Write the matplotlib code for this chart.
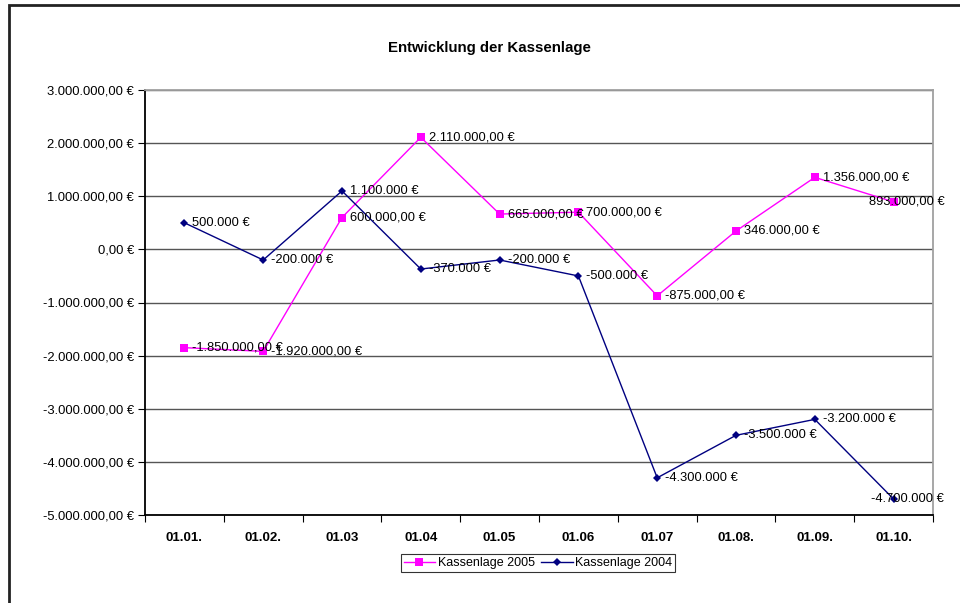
import matplotlib.pyplot as plt
from matplotlib.patches import Rectangle

plt.rcParams['font.family'] = ['Liberation Sans', 'DejaVu Sans']

categories = ['01.01.', '01.02.', '01.03', '01.04', '01.05', '01.06', '01.07', '01.08.', '01.09.', '01.10.']
kasse_2005 = [-1850000, -1920000, 600000, 2110000, 665000, 700000, -875000, 346000, 1356000, 893000]
kasse_2004 = [500000, -200000, 1100000, -370000, -200000, -500000, -4300000, -3500000, -3200000, -4700000]
y_ticks = [-5000000, -4000000, -3000000, -2000000, -1000000, 0, 1000000, 2000000, 3000000]


def euro(v, decimals=True):
    s = f"{abs(v):,.2f}" if decimals else f"{abs(v):,.0f}"
    s = s.replace(',', 'X').replace('.', ',').replace('X', '.')
    return ('-' if v < 0 else '') + s + ' €'


W, H = 960, 603
fig = plt.figure(figsize=(W / 100, H / 100), dpi=100)

# outer chart frame (runs off the right and bottom edge)
fig.add_artist(Rectangle((9 / W, -0.1), 1.2, 1.1 - 5 / H, transform=fig.transFigure,
                         fill=False, edgecolor='#222222', linewidth=2))

ax = fig.add_axes([145 / W, 1 - 515 / H, 788 / W, 425 / H])
x = list(range(len(categories)))

ax.plot(x, kasse_2005, color='#FF00FF', linewidth=1, marker='s', markersize=6,
        markeredgewidth=0, label='Kassenlage 2005', zorder=3)
ax.plot(x, kasse_2004, color='#000080', linewidth=1, marker='D', markersize=4.5,
        markeredgewidth=0, label='Kassenlage 2004', zorder=3)

# data labels
for i, v in enumerate(kasse_2005):
    dx = -25 if i == len(x) - 1 else 8
    ax.annotate(euro(v, True), (i, v), xytext=(dx, 0), textcoords='offset pixels',
                va='center', ha='left', fontsize=9.3, zorder=4)
for i, v in enumerate(kasse_2004):
    dx = -23 if i == len(x) - 1 else 8
    ax.annotate(euro(v, False), (i, v), xytext=(dx, 0), textcoords='offset pixels',
                va='center', ha='left', fontsize=9.3, zorder=4)

ax.set_xlim(-0.5, len(x) - 0.5)
ax.set_ylim(-5000000, 3000000)
ax.set_yticks(y_ticks)
ax.set_yticklabels([euro(v) for v in y_ticks], fontsize=9.4)
ax.yaxis.grid(True, color='#555555', linewidth=1)
ax.set_axisbelow(True)

# category axis: ticks between categories, labels centred
ax.set_xticks([i - 0.5 for i in range(len(x) + 1)])
ax.set_xticklabels([])
ax.set_xticks(x, minor=True)
ax.set_xticklabels(categories, minor=True, fontsize=9.5, fontweight='bold')
ax.tick_params(axis='x', which='minor', length=0, pad=12)
ax.tick_params(axis='x', which='major', length=5, color='black')
ax.tick_params(axis='y', length=5, pad=3)

ax.spines['left'].set_color('black')
ax.spines['bottom'].set_color('black')
ax.spines['top'].set_color('#a0a0a0')
ax.spines['right'].set_color('#a0a0a0')
for s in ax.spines.values():
    s.set_linewidth(1.3)

fig.text(489 / W, 1 - 48 / H, 'Entwicklung der Kassenlage', ha='center', va='center',
         fontsize=10.8, fontweight='bold')

leg = ax.legend(loc='center', bbox_to_anchor=(538 / W, 1 - 563 / H), bbox_transform=fig.transFigure,
                ncol=2, fontsize=9, frameon=True, fancybox=False, edgecolor='black',
                handlelength=2.5, handletextpad=0.2, columnspacing=0.55, borderpad=0.25,
                borderaxespad=0)
leg.get_frame().set_linewidth(0.8)

fig.savefig('out.png', dpi=100)
